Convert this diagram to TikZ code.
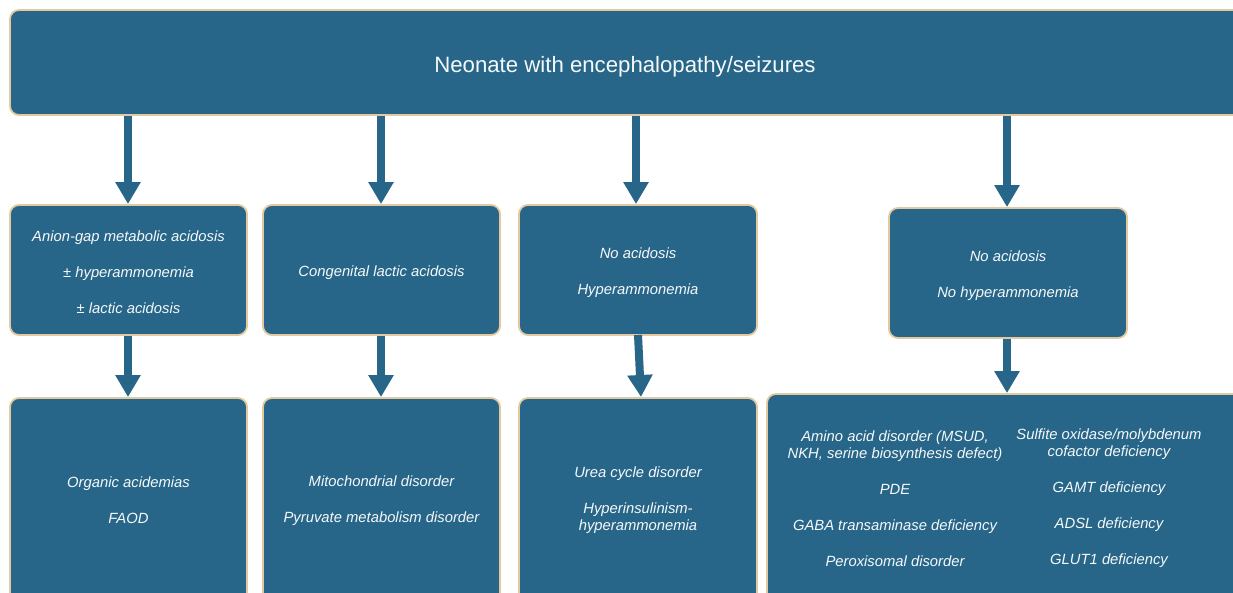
\documentclass[tikz,border=0pt]{standalone}
\usepackage{fontspec}
\setmainfont{Liberation Sans}
\usetikzlibrary{arrows.meta}
\definecolor{boxblue}{RGB}{39,102,136}
\definecolor{boxedge}{RGB}{228,200,160}
\tikzset{
  box/.style={draw=boxedge, line width=1.8pt, fill=boxblue, rounded corners=9pt, inner sep=0pt},
  txt/.style={text=white!96!boxblue, align=center, font=\fontsize{14.8}{17}\selectfont\itshape, inner sep=0pt},
  arr/.style={draw=boxblue, line width=8pt, -{Triangle[width=24pt,length=22pt]}, shorten >=0pt}
}
\begin{document}
\begin{tikzpicture}[x=1pt,y=-1pt]
\useasboundingbox (0,0) rectangle (1233,593);
\clip (0,0) rectangle (1233,593);
% top
\node[box, minimum width=1240pt, minimum height=105pt] (top) at (630,62.5) {};
\node[text=white!96!boxblue, font=\fontsize{22.2}{26}\selectfont, inner sep=0pt] (toptxt) at (625,67) {Neonate with encephalopathy/seizures};
% row 2
\node[box, minimum width=237pt, minimum height=130pt] (a1) at (128.5,270) {};
\node[box, minimum width=237pt, minimum height=130pt] (a2) at (381.5,270) {};
\node[box, minimum width=238pt, minimum height=130pt] (a3) at (638,270) {};
\node[box, minimum width=238pt, minimum height=130pt] (a4) at (1008,273) {};
\node[txt] (a1t) at (128.5,272.5) {Anion-gap metabolic acidosis\\[19pt]\textpm{} hyperammonemia\\[19pt]\textpm{} lactic acidosis};
\node[txt] (a2t) at (381.5,272.5) {Congenital lactic acidosis};
\node[txt] (a3t) at (638,272.5) {No acidosis\\[19pt]Hyperammonemia};
\node[txt] (a4t) at (1008,276) {No acidosis\\[19pt]No hyperammonemia};
% row 3
\node[box, minimum width=237pt, minimum height=240pt] (c1) at (128.5,518) {};
\node[box, minimum width=237pt, minimum height=240pt] (c2) at (381.5,518) {};
\node[box, minimum width=238pt, minimum height=240pt] (c3) at (638,518) {};
\node[box, minimum width=480pt, minimum height=240pt] (c4) at (1007,514) {};
\node[txt] (c1t) at (128.5,500.5) {Organic acidemias\\[19pt]FAOD};
\node[txt] (c2t) at (381.5,500.5) {Mitochondrial disorder\\[19pt]Pyruvate metabolism disorder};
\node[txt] (c3t) at (638,500) {Urea cycle disorder\\[19pt]Hyperinsulinism-\\hyperammonemia};
\node[txt] (c4l) at (895,498.5) {Amino acid disorder (MSUD,\\NKH, serine biosynthesis defect)\\[19pt]PDE\\[19pt]GABA transaminase deficiency\\[19pt]Peroxisomal disorder};
\node[txt] (c4r) at (1109,498.5) {Sulfite oxidase/molybdenum\\cofactor deficiency\\[19pt]GAMT deficiency\\[19pt]ADSL deficiency\\[19pt]GLUT1 deficiency};
% arrows
\draw[arr] (top.south -| 128,0) -- (a1.north -| 128,0);
\draw[arr] (top.south -| 381,0) -- (a2.north -| 381,0);
\draw[arr] (top.south -| 636,0) -- (a3.north -| 636,0);
\draw[arr] (top.south -| 1007,0) -- (a4.north -| 1007,0);
\draw[arr] (a1.south -| 128,0) -- (c1.north -| 128,0);
\draw[arr] (a2.south -| 381,0) -- (c2.north -| 381,0);
\draw[arr] (638,335) -- (641,397);
\draw[arr] (a4.south -| 1007,0) -- (c4.north -| 1007,0);
\end{tikzpicture}
\end{document}
